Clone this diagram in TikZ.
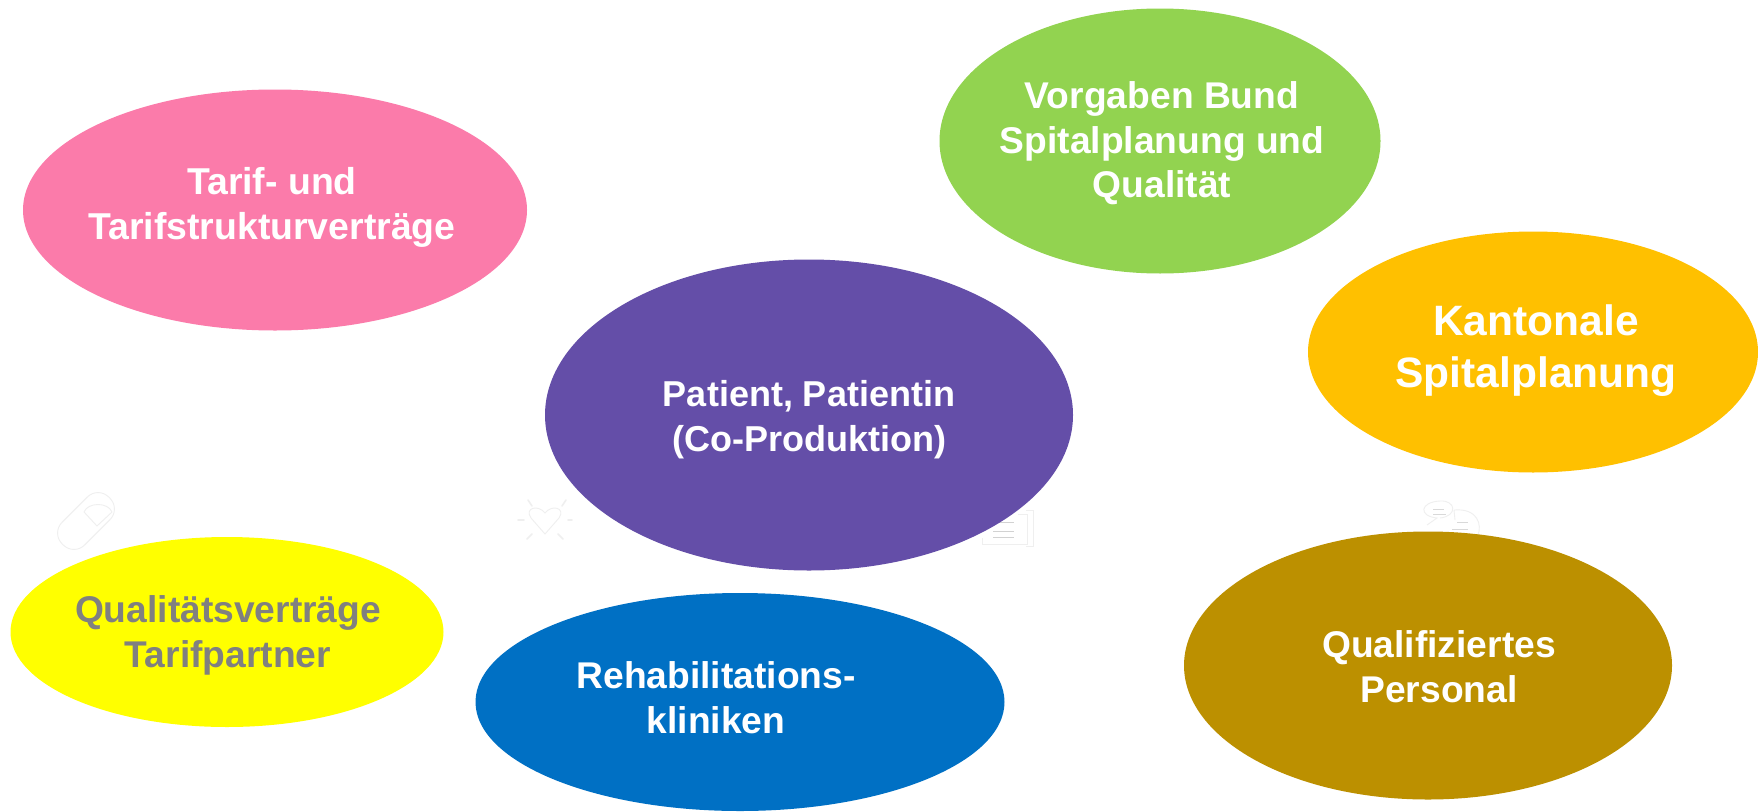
\documentclass[tikz,border=0pt]{standalone}
\usepackage{fontspec}
\setmainfont{Liberation Sans}
\usetikzlibrary{shapes.geometric}
\definecolor{cpink}{HTML}{FB7BAA}
\definecolor{cgreen}{HTML}{92D350}
\definecolor{corange}{HTML}{FFC000}
\definecolor{cpurple}{HTML}{644EA8}
\definecolor{cyellow}{HTML}{FFFF00}
\definecolor{cblue}{HTML}{0070C4}
\definecolor{cgold}{HTML}{BC9000}
\definecolor{cicon}{HTML}{EFEFEF}
\tikzset{
 x=1pt,y=-1pt,
 blob/.style={ellipse,inner sep=0pt,outer sep=0pt,draw=none},
 lab/.style 2 args={align=center,inner sep=0pt,text=white,font=\bfseries\fontsize{#1}{#2}\selectfont},
 icon/.style={draw=cicon,line width=0.9pt,fill=none}
}
\begin{document}
\begin{tikzpicture}
\useasboundingbox (0,0) rectangle (1758,811);
\fill[white] (0,0) rectangle (1758,811);
% icons
\begin{scope}[icon]
 \node[draw=cicon,rounded corners=15pt,minimum width=66pt,minimum height=32pt,rotate=45,inner sep=0pt] (pill) at (86,521) {};
 \draw (84,512) -- (97,526) -- (112,512) (84,512) .. controls (88,502) and (108,502) .. (112,512);
 \draw (531,518) .. controls (524,508) and (538,504) .. (545,513) .. controls (552,504) and (566,508) .. (559,518) -- (545,534) -- cycle;
 \draw[line width=1.6pt,line cap=round] (528,500) -- (532,506) (562,506) -- (566,500) (518,520) -- (524,520) (568,520) -- (572,520) (527,539) -- (532,534) (558,534) -- (563,539);
 \draw (1027,514) -- (1027,544) -- (982,544) -- (982,538) (1027,514) -- (1018,514) (1033,510) -- (1026,510) (1026,546) -- (1033,546) -- (1033,510);
 \draw[gray!35] (993,522) -- (1014,522) (993,531) -- (1014,531) (993,537) -- (1014,537);
 \draw (1427,525) -- (1437,518) .. controls (1418,516) and (1420,502) .. (1440,501) .. controls (1456,500) and (1458,516) .. (1440,518);
 \draw (1454,510) .. controls (1478,508) and (1482,525) .. (1478,535) (1455,520) -- (1454,510);
 \draw[gray!30] (1433,509) -- (1444,509) (1433,514) -- (1446,514) (1457,522) -- (1468,522) (1452,529) -- (1468,529);
\end{scope}
% ellipses
\node[blob,fill=cpink,minimum width=504pt,minimum height=241pt] (tarif) at (275,210) {};
\node[blob,fill=cgreen,minimum width=441pt,minimum height=265pt] (bund) at (1160,141) {};
\node[blob,fill=corange,minimum width=450pt,minimum height=241pt] (kanton) at (1533,352) {};
\node[blob,fill=cpurple,minimum width=528pt,minimum height=311pt] (patient) at (809,415) {};
\node[blob,fill=cyellow,minimum width=433pt,minimum height=190pt] (qual) at (227,632) {};
\node[blob,fill=cblue,minimum width=529pt,minimum height=218pt] (reha) at (740,702) {};
\node[blob,fill=cgold,minimum width=488pt,minimum height=268pt] (pers) at (1428,665.5) {};
% labels
\node[lab={37.4}{45}] (tarift) at (272,207) {Tarif- und\\Tarifstrukturverträge};
\node[lab={37.2}{44.5}] (bundt) at (1162,143.5) {Vorgaben Bund\\Spitalplanung und\\Qualität};
\node[lab={42.5}{52}] (kantont) at (1536,350.5) {Kantonale\\Spitalplanung};
\node[lab={36}{45}] (patientt) at (809,420) {Patient, Patientin\\(Co-Produktion)};
\node[lab={37.2}{45},text=gray] (qualt) at (228,635) {Qualitätsverträge\\Tarifpartner};
\node[lab={37.2}{45}] (rehat) at (716,698) {Rehabilitations-\\kliniken};
\node[lab={37.2}{45}] (perst) at (1439,667) {Qualifiziertes\\Personal};
\end{tikzpicture}
\end{document}
